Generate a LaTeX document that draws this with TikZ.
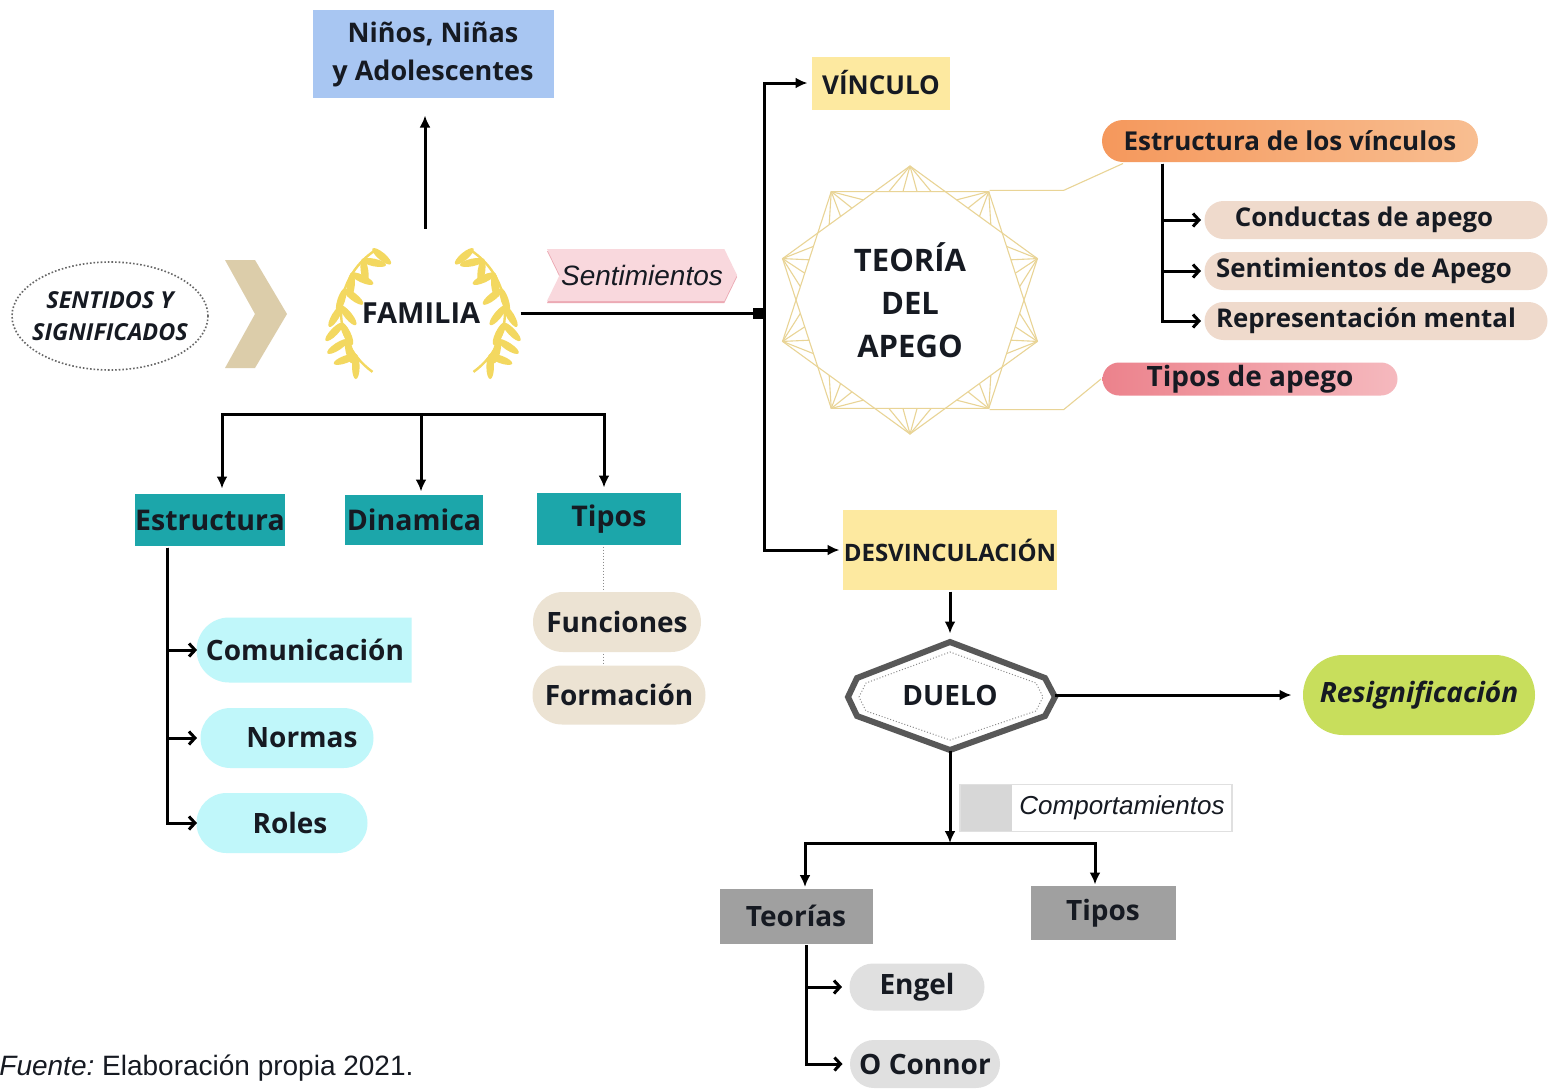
\documentclass[tikz,border=0pt]{standalone}
\usepackage{fontspec}
\setmainfont{Open Sans}
\newfontfamily\arialfont{Liberation Sans}
\usetikzlibrary{arrows.meta,positioning,shapes.geometric,shapes.misc,shapes.symbols,shadows,calc}

\definecolor{ink}{RGB}{22,26,34}
\definecolor{nnablue}{RGB}{168,198,242}
\definecolor{famteal}{RGB}{28,166,170}
\definecolor{cyanpill}{RGB}{192,247,250}
\definecolor{tanpill}{RGB}{236,227,211}
\definecolor{chevtan}{RGB}{220,205,170}
\definecolor{laurel}{RGB}{243,216,96}
\definecolor{sentpink}{RGB}{249,216,221}
\definecolor{sentedge}{RGB}{236,170,180}
\definecolor{vincyellow}{RGB}{253,233,160}
\definecolor{orangel}{RGB}{245,152,92}
\definecolor{oranger}{RGB}{248,190,145}
\definecolor{apegotan}{RGB}{239,218,204}
\definecolor{pinkl}{RGB}{236,130,140}
\definecolor{pinkr}{RGB}{245,185,190}
\definecolor{resgreen}{RGB}{200,222,92}
\definecolor{duelogray}{RGB}{88,88,88}
\definecolor{boxgray}{RGB}{160,160,160}
\definecolor{pillgray}{RGB}{224,224,224}
\definecolor{compgray}{RGB}{215,215,215}
\definecolor{gold}{RGB}{233,212,150}

\begin{document}
\begin{tikzpicture}[
		x=1pt, y=-1pt,
		line width=3pt,
		every node/.style={font=\bfseries, text=ink, inner sep=0pt},
		arr/.style={-{Latex[length=12pt,width=11pt]}},
		barb/.style={-{Straight Barb[length=6pt,width=13pt]}},
		nna/.style={rectangle, fill=nnablue, align=center, font=\fontsize{27}{38}\selectfont\bfseries},
		tealbox/.style={rectangle, fill=famteal, font=\fontsize{28.5}{28}\selectfont\bfseries},
		cyanbox/.style={rounded rectangle, fill=cyanpill, font=\fontsize{28}{28}\selectfont\bfseries},
		tanbox/.style={rounded rectangle, fill=tanpill, font=\fontsize{28}{28}\selectfont\bfseries},
		ybox/.style={rectangle, fill=vincyellow},
		apegobox/.style={rounded rectangle, fill=apegotan, font=\fontsize{25.8}{26}\selectfont\bfseries},
		graybox/.style={rectangle, fill=boxgray, font=\fontsize{28}{28}\selectfont\bfseries},
		graypill/.style={rounded rectangle, fill=pillgray, font=\fontsize{28}{28}\selectfont\bfseries},
		arialit/.style={font=\arialfont\itshape\fontsize{#1}{#1}\selectfont}
	]
	\useasboundingbox[fill=white] (0,0) rectangle (1548,1088);

	\node[nna, minimum width=241, minimum height=88] (nna) at (433,54) {Niños, Niñas\\y Adolescentes};
	\node[ellipse, draw=black!60, dotted, line width=1.6pt, inner xsep=-16pt, minimum width=196, minimum height=108,
		align=center, font=\fontsize{23.4}{32}\selectfont\bfseries\itshape] (sent) at (110,316) {SENTIDOS Y\\SIGNIFICADOS};
	\fill[chevtan] (225,260) -- (255,260) -- (287,314) -- (255,368) -- (225,368) -- (255,314) -- cycle;

	\node[ellipse, minimum width=196, minimum height=166, font=\fontsize{29}{29}\selectfont\bfseries] (fam) at (421,313) {FAMILIA};
	\begin{scope}[shift={(423,312)}, yscale=-1]
		\foreach \side in {1,-1} {
				\begin{scope}[xscale=\side]
					\draw[laurel, line width=2.4pt] (232:82 and 76) arc[start angle=232, end angle=126, x radius=82, y radius=76];
					\foreach \ang in {137,150,...,226} {
							\fill[laurel, shift={(\ang:82 and 76)}, rotate=\ang-55] (11,0) ellipse (12.5 and 3.8);
							\fill[laurel, shift={(\ang:82 and 76)}, rotate=\ang-125] (11,0) ellipse (12.5 and 3.8);
						}
					\fill[laurel, shift={(126:82 and 76)}, rotate=40] (9,0) ellipse (12 and 3.8);
				\end{scope}
			}
	\end{scope}

	\node[signal, signal to=east, signal from=west, signal pointer angle=128, fill=sentpink,
		minimum width=190, minimum height=52, arialit=28,
		drop shadow={shadow xshift=0pt, shadow yshift=-2pt, fill=sentedge, opacity=1}] (sentim) at (642,275) {Sentimientos};

	\coordinate (hub) at (764,313);
	\node[ybox, minimum width=138, minimum height=53, font=\fontsize{26}{26}\selectfont\bfseries] (vinc) at (881,83) {VÍNCULO};
	\node[ybox, minimum width=214, minimum height=80, font=\fontsize{24}{24}\selectfont\bfseries] (desv) at (950,550) {DESVINCULACIÓN};

	\node[circle, minimum size=268, align=center, font=\fontsize{31}{43}\selectfont\bfseries] (teoria) at (910,300) {TEORÍA\\DEL\\APEGO};
	\begin{scope}[shift={(910,300)}, yscale=-1, gold, line width=1.1pt]
		\draw (90:134) \foreach \a in {162,234,306,18} {-- (\a:134)} -- cycle;
		\draw (54:134) \foreach \a in {126,198,270,342} {-- (\a:134)} -- cycle;
		\foreach \a in {18,54,...,342} {
				\foreach \f in {0.2,0.4,0.6,0.8}
				\draw (\a:134) -- ($({\a-18}:114)!\f!({\a+18}:114)$);
			}
	\end{scope}

	\node[rounded rectangle, left color=orangel, right color=oranger, minimum width=376, minimum height=42,
		font=\fontsize{26}{26}\selectfont\bfseries] (estv) at (1290,141) {Estructura de los vínculos};
	\node[apegobox, minimum width=343, minimum height=38] (cond) at (1376,220) {\hspace*{-24pt}Conductas de apego};
	\node[apegobox, minimum width=343, minimum height=38] (senta) at (1376,271) {\hspace*{-24pt}Sentimientos de Apego};
	\node[apegobox, minimum width=343, minimum height=38] (repr) at (1376,321) {\hspace*{-20pt}Representación mental};
	\node[rounded rectangle, left color=pinkl, right color=pinkr, minimum width=295, minimum height=33,
		font=\fontsize{28}{28}\selectfont\bfseries] (tapego) at (1250,379) {Tipos de apego};

	\draw[gold, line width=1.1pt] (teoria.54) -- ++(74,0) -- (estv.south west);
	\draw[gold, line width=1.1pt] (teoria.-54) -- ++(74,0) -- (tapego.west);

	\node[minimum width=207, minimum height=108, font=\fontsize{28}{28}\selectfont\bfseries] (duelo) at (950,695) {DUELO};
	\draw[duelogray, line width=6pt, line join=miter] (848,697) -- (857,678) -- (950,642) -- (1045,678) -- (1055,697)
	-- (1045,716) -- (950,750) -- (857,716) -- cycle;
	\draw[black!45, dotted, line width=1pt] (859,697) -- (866,683) -- (950,652) -- (1036,683) -- (1043,697)
	-- (1036,711) -- (950,740) -- (866,711) -- cycle;
	\node[rounded rectangle, fill=resgreen, minimum width=232, minimum height=80,
		font=\fontsize{28}{28}\selectfont\bfseries\itshape] (resig) at (1419,695) {Resignificación};

	\node[rectangle, draw=black!12, fill=white, line width=1.5pt, minimum width=272, minimum height=47, arialit=26,
		path picture={\fill[compgray] (path picture bounding box.north west) rectangle ([xshift=52pt]path picture bounding box.south west);}]
	(comp) at (1096,808) {\hspace*{52pt}Comportamientos};

	\coordinate (split) at (950,843);
	\node[graybox, minimum width=153, minimum height=55] (teor) at (796,916) {Teorías};
	\node[graybox, minimum width=145, minimum height=54] (tipd) at (1103,913) {Tipos};
	\node[graypill, minimum width=135, minimum height=47] (engel) at (917,987) {Engel};
	\node[graypill, minimum width=150, minimum height=48] (oconn) at (925,1064) {O Connor};

	\coordinate (fbar) at (421,414);
	\node[tealbox, minimum width=150, minimum height=52] (estr) at (210,520) {Estructura};
	\node[tealbox, minimum width=138, minimum height=50] (dina) at (414,520) {Dinamica};
	\node[tealbox, minimum width=144, minimum height=52] (tipf) at (609,519) {Tipos};
	\node[cyanbox, rounded rectangle right arc=none, minimum width=215, minimum height=65] (comu) at (305,650) {Comunicación};
	\node[cyanbox, minimum width=173, minimum height=60] (norm) at (287,738) {\hspace*{30pt}Normas};
	\node[cyanbox, minimum width=171, minimum height=60] (roles) at (282,823) {\hspace*{16pt}Roles};
	\node[tanbox, minimum width=168, minimum height=60] (func) at (617,622) {Funciones};
	\node[tanbox, minimum width=173, minimum height=59] (form) at (619,695) {Formación};

	\draw[arr] ([xshift=4pt]fam.north) -- ([xshift=4pt,yshift=-16pt]fam.north |- nna.south);
	\draw[-{Square[length=11pt,width=11pt]}] (fam.east) -- (hub);
	\draw[arr] (hub) |- ([xshift=-3pt]vinc.west);
	\draw[arr] (hub) |- ([xshift=-2pt]desv.west);
	\draw[arr] (desv.south) -- ([yshift=6pt]duelo.north);
	\draw[arr] (duelo.east) -- ([xshift=-10pt]resig.west);
	\draw[arr] (duelo.south) -- (split);
	\draw[arr] (split) -| ([xshift=9pt]teor.north);
	\draw[arr] (split) -| ([xshift=-8pt]tipd.north);
	\draw[barb] ([xshift=10pt]teor.south) |- ([xshift=-6pt]engel.west);
	\draw[barb] ([xshift=10pt]teor.south) |- ([xshift=-6pt]oconn.west);

	\draw[barb] ([xshift=-128pt]estv.south) |- ([xshift=-2pt]cond.west);
	\draw[barb] ([xshift=-128pt]estv.south) |- ([xshift=-2pt]senta.west);
	\draw[barb] ([xshift=-128pt]estv.south) |- ([xshift=-2pt]repr.west);

	\draw[arr] (fbar) -| ([xshift=12pt,yshift=4pt]estr.north);
	\draw[arr] (fbar) -- ([yshift=2pt]fbar |- dina.north);
	\draw[arr] (fbar) -| ([xshift=-5pt,yshift=4pt]tipf.north);
	\draw[barb] ([xshift=-43pt]estr.south) |- ([xshift=2pt]comu.west);
	\draw[barb] ([xshift=-43pt]estr.south) |- ([xshift=-2pt]norm.west);
	\draw[barb] ([xshift=-43pt]estr.south) |- ([xshift=2pt]roles.west);
	\draw[black!45, dotted, line width=1pt] ([xshift=-6pt]tipf.south) -- ([xshift=-14pt]func.north);
	\draw[black!45, dotted, line width=1pt] ([xshift=-14pt]func.south) -- ([xshift=-16pt]form.north);

	\node[anchor=base east, font=\arialfont\mdseries\fontsize{28}{28}\selectfont] (fuente) at (415,1075) {\textit{Fuente:}~Elaboración propia 2021.};
\end{tikzpicture}
\end{document}
